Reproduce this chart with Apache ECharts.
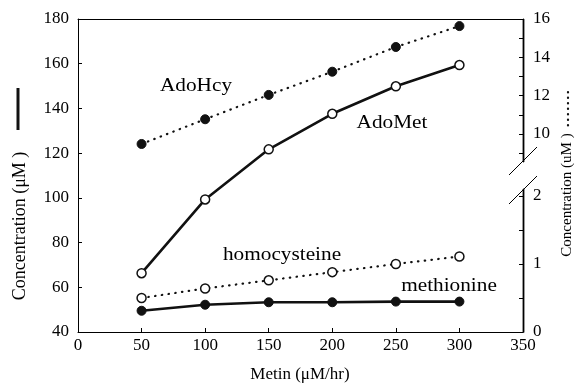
<!DOCTYPE html>
<html><head><meta charset="utf-8">
<script src="https://cdn.jsdelivr.net/npm/echarts@6/dist/echarts.min.js"></script>
<style>html,body{margin:0;padding:0;background:#fff}#c{width:576px;height:387px}</style>
</head><body><div id="c"></div>
<script>
// ---- data ----
const xValues = [50, 100, 150, 200, 250, 300];
const adoMet = [66.3, 99.3, 121.7, 137.6, 149.9, 159.4];        // left axis (µM)
const methionine = [49.5, 52.2, 53.3, 53.3, 53.6, 53.6];        // left axis (µM)
const adoHcy = [9.48, 10.77, 12.04, 13.25, 14.54, 15.63];       // right axis (upper part)
const homocysteine = [0.50, 0.64, 0.76, 0.88, 1.00, 1.11];      // right axis (lower part)
const rightUpperLabels = [10, 12, 14, 16];
const rightUpperTicks = [9, 10, 11, 12, 13, 14, 15, 16];
const rightLowerLabels = [0, 1, 2];
const rightLowerTicks = [0, 0.5, 1, 1.5, 2];

const FONT = '"Liberation Serif", "Times New Roman", serif';
const chart = echarts.init(document.getElementById('c'), null, {renderer: 'canvas'});
const pairs = (ys) => xValues.map((x, i) => [x, ys[i]]);
const axisBase = {
  axisLine: {show: true, onZero: false, lineStyle: {color: '#000', width: 1}},
  axisTick: {show: true, inside: true, length: 4, lineStyle: {color: '#000', width: 1}},
  axisLabel: {color: '#000', fontFamily: FONT, fontSize: 17},
  splitLine: {show: false}
};
const hiddenX = (gi) => ({type: 'value', gridIndex: gi, min: 0, max: 350,
  axisLine: {show: false, onZero: false}, axisTick: {show: false}, axisLabel: {show: false}, splitLine: {show: false}});
const dotted = {color: '#111', width: 2.2, type: [0.5, 6.3], cap: 'round'};

const option = {
  backgroundColor: '#fff',
  animation: false,
  grid: [
    {left: 78, right: 53, top: 19, bottom: 55},
    {left: 78, right: 53, top: 19, height: 143},
    {left: 78, right: 53, top: 189, bottom: 55}
  ],
  xAxis: [
    Object.assign({}, axisBase, {type: 'value', gridIndex: 0, min: 0, max: 350, interval: 50,
      axisLabel: Object.assign({}, axisBase.axisLabel, {margin: 5})}),
    {type: 'value', gridIndex: 0, position: 'top', min: 0, max: 350,
      axisLine: {show: true, onZero: false, lineStyle: {color: '#000', width: 1}}, axisTick: {show: false},
      axisLabel: {show: false}, splitLine: {show: false}},
    hiddenX(1),
    hiddenX(2)
  ],
  yAxis: [
    Object.assign({}, axisBase, {type: 'value', gridIndex: 0, min: 40, max: 180, interval: 20,
      axisLabel: Object.assign({}, axisBase.axisLabel, {margin: 9})}),
    Object.assign({}, axisBase, {type: 'value', gridIndex: 1, position: 'right', min: 8.54, max: 16,
      axisTick: Object.assign({}, axisBase.axisTick, {customValues: rightUpperTicks}),
      axisLabel: Object.assign({}, axisBase.axisLabel, {margin: 10, customValues: rightUpperLabels})}),
    Object.assign({}, axisBase, {type: 'value', gridIndex: 2, position: 'right', min: 0, max: 2.103,
      axisTick: Object.assign({}, axisBase.axisTick, {customValues: rightLowerTicks}),
      axisLabel: Object.assign({}, axisBase.axisLabel, {margin: 10, customValues: rightLowerLabels})})
  ],
  series: [
    {name: 'AdoMet', type: 'line', xAxisIndex: 0, yAxisIndex: 0, data: pairs(adoMet),
      symbol: 'circle', symbolSize: 9,
      lineStyle: {color: '#111', width: 2.6},
      itemStyle: {color: '#fff', borderColor: '#111', borderWidth: 1.5}, z: 3},
    {name: 'methionine', type: 'line', xAxisIndex: 0, yAxisIndex: 0, data: pairs(methionine),
      symbol: 'circle', symbolSize: 9,
      lineStyle: {color: '#111', width: 2.6},
      itemStyle: {color: '#111', borderColor: '#111', borderWidth: 1}, z: 3},
    {name: 'AdoHcy', type: 'line', xAxisIndex: 2, yAxisIndex: 1, data: pairs(adoHcy),
      symbol: 'circle', symbolSize: 9,
      lineStyle: dotted,
      itemStyle: {color: '#111', borderColor: '#111', borderWidth: 1}, z: 3},
    {name: 'homocysteine', type: 'line', xAxisIndex: 3, yAxisIndex: 2, data: pairs(homocysteine),
      symbol: 'circle', symbolSize: 9,
      lineStyle: dotted,
      itemStyle: {color: '#fff', borderColor: '#111', borderWidth: 1.5}, z: 3}
  ],
  graphic: [
    // right frame line, split at the axis break
    {type: 'rect', shape: {x: 522.6, y: 19, width: 1.8, height: 143}, style: {fill: '#000'}, z: 100},
    {type: 'rect', shape: {x: 522.6, y: 189, width: 1.8, height: 143.5}, style: {fill: '#000'}, z: 100},
    // axis break marks
    {type: 'line', shape: {x1: 509, y1: 175, x2: 537, y2: 147}, style: {stroke: '#000', lineWidth: 1}},
    {type: 'line', shape: {x1: 509, y1: 204, x2: 537, y2: 176}, style: {stroke: '#000', lineWidth: 1}},
    // line-style keys beside the axis titles
    {type: 'line', shape: {x1: 18, y1: 88, x2: 18, y2: 130}, style: {stroke: '#111', lineWidth: 3}},
    {type: 'line', shape: {x1: 568, y1: 92, x2: 568, y2: 128}, style: {stroke: '#111', lineWidth: 2.2, lineDash: [0.5, 5], lineCap: 'round'}},
    // axis titles
    {type: 'text', x: 20, y: 226, rotation: Math.PI / 2,
      style: {text: 'Concentration (μM )', font: '18px ' + FONT, fill: '#000', align: 'center', verticalAlign: 'middle'}},
    {type: 'text', x: 567, y: 195, rotation: Math.PI / 2,
      style: {text: 'Concentration (uM )', font: '15px ' + FONT, fill: '#000', align: 'center', verticalAlign: 'middle'}},
    {type: 'text', x: 300, y: 375,
      style: {text: 'Metin (μM/hr)', font: '17px ' + FONT, fill: '#000', align: 'center', verticalAlign: 'middle'}},
    // series annotations
    {type: 'text', x: 196, y: 86, scaleX: 1.12,
      style: {text: 'AdoHcy', font: '19px ' + FONT, fill: '#000', align: 'center', verticalAlign: 'middle'}},
    {type: 'text', x: 392, y: 123, scaleX: 1.12,
      style: {text: 'AdoMet', font: '19px ' + FONT, fill: '#000', align: 'center', verticalAlign: 'middle'}},
    {type: 'text', x: 282, y: 255, scaleX: 1.12,
      style: {text: 'homocysteine', font: '19px ' + FONT, fill: '#000', align: 'center', verticalAlign: 'middle'}},
    {type: 'text', x: 449, y: 286, scaleX: 1.12,
      style: {text: 'methionine', font: '19px ' + FONT, fill: '#000', align: 'center', verticalAlign: 'middle'}}
  ]
};
chart.setOption(option);
</script>
</body></html>
